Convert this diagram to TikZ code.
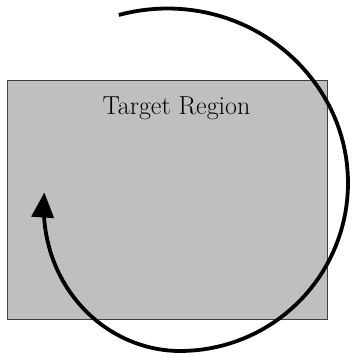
\documentclass[tikz,border=0pt]{standalone}
\usetikzlibrary{arrows.meta}
\begin{document}
\begin{tikzpicture}[x=1pt,y=-1pt,
  declare function={xx(\t)=max(-90-\t,0)/86; rr(\t)=168+0.0017*(max(\t-30,0))^2-32*(2*xx(\t)^2-xx(\t)^3);},
  region/.style={draw=black!75, line width=0.9pt, fill=black!25, minimum width=320pt, minimum height=238pt, inner sep=0pt, anchor=north west},
  regionlabel/.style={font=\fontsize{26}{31}\selectfont, inner sep=0pt},
  swirl/.style={line width=3.8pt, -{Triangle[length=25pt,width=22pt]}}]
\useasboundingbox (0,0) rectangle (351,358);
\node[region] (rect) at (7,80.5) {};
\node[regionlabel] (lbl) at (176.5,108) {Target Region};
\draw[swirl] plot[domain=110:-176, samples=120, variable=\t] ({180+rr(\t)*cos(\t)}, {183-rr(\t)*sin(\t)});
\end{tikzpicture}
\end{document}
